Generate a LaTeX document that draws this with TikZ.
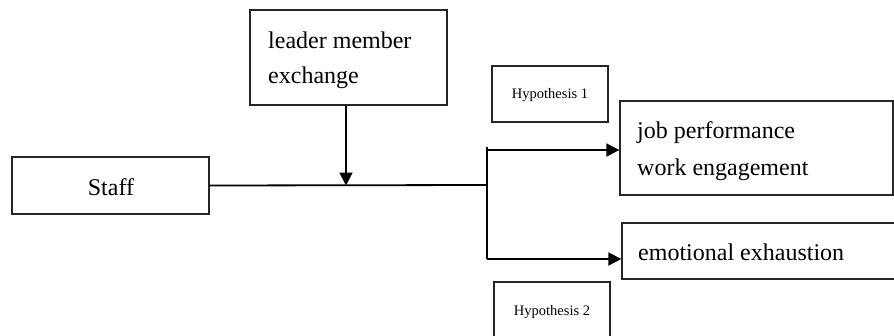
\documentclass[tikz,border=0pt]{standalone}
\usepackage{fontspec}
\setmainfont{Liberation Serif}
\usetikzlibrary{arrows.meta}
\begin{document}
\begin{tikzpicture}[x=1pt,y=-1pt,
  box/.style={draw=black!85, line width=1.3pt, inner sep=0pt, rectangle},
  big/.style={font=\fontsize{24}{28}\selectfont, inner sep=0pt},
  small/.style={font=\fontsize{14.5}{17}\selectfont, inner sep=0pt},
  lin/.style={line width=1.8pt, black},
  arr/.style={lin, -{Triangle[length=13pt,width=13pt]}}]
\useasboundingbox (0,0) rectangle (894,335);
\clip (0,0) rectangle (894,335);
% boxes
\node[box, minimum width=197pt, minimum height=57pt] (staff) at (110.5,185.5) {};
\node[big, anchor=base] (stafft) at (111,195) {Staff};
\node[box, minimum width=197pt, minimum height=95pt] (lmx) at (348.5,57.5) {};
\node[big, anchor=base west] (lmx1) at (268,48) {leader member};
\node[big, anchor=base west] (lmx2) at (268,83) {exchange};
\node[box, minimum width=116pt, minimum height=56pt] (h1) at (550,94) {};
\node[small, anchor=base] (h1t) at (550,98) {Hypothesis 1};
\node[box, minimum width=116pt, minimum height=70pt] (h2) at (552,317) {};
\node[small, anchor=base] (h2t) at (552,315) {Hypothesis 2};
\node[box, minimum width=273pt, minimum height=94pt] (jp) at (756.5,148) {};
\node[big, anchor=base west] (jp1) at (637,138) {job performance};
\node[big, anchor=base west] (jp2) at (637,175) {work engagement};
\node[box, minimum width=280pt, minimum height=56pt] (ee) at (762,251) {};
\node[big, anchor=base west] (eet) at (638,260) {emotional exhaustion};
% connectors
\coordinate (j) at (487,185);
\coordinate (jt) at (487,147);
\coordinate (ja) at (487,150);
\coordinate (jb) at (487,259);
\coordinate (m) at (346,185.5);
\draw[lin] (staff.east) -- (j);
\draw[lin, line width=1.6pt] (jt) -- (jb);
\draw[arr] (ja) -- (ja -| jp.west);
\draw[arr] (jb) -- (jb -| ee.west);
\draw[arr] (m |- lmx.south) -- (m);
\end{tikzpicture}
\end{document}
